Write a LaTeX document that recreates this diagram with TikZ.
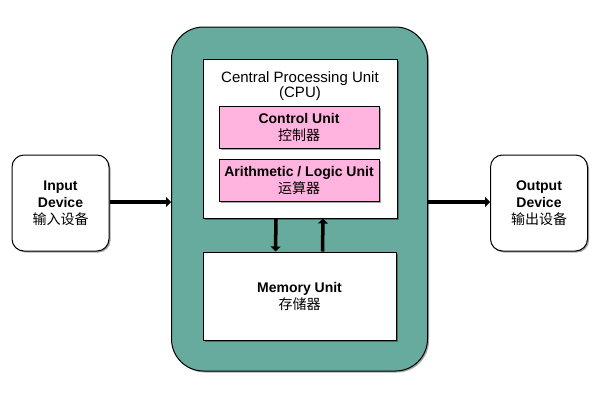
\documentclass[tikz,border=0pt]{standalone}
\usepackage{fontspec}
\setmainfont{Liberation Sans}
\newfontfamily\cjk{Noto Sans CJK SC}
\usetikzlibrary{arrows.meta,shadows}
\definecolor{tealfill}{HTML}{67AB9F}
\definecolor{pinkfill}{HTML}{FFB3DE}
\newcommand{\zh}[1]{{\cjk\fontsize{14}{17}\selectfont #1}}
\tikzset{
  shd/.style={drop shadow={shadow xshift=1.5pt,shadow yshift=-1.5pt,opacity=0.35,fill=black}},
  box/.style={draw=black,line width=1pt,fill=white,shd,align=center,inner sep=0pt,font=\fontsize{14}{17}\selectfont},
  devbox/.style={box,rounded corners=12pt,minimum width=97pt,minimum height=96pt},
  pinkbox/.style={box,fill=pinkfill,minimum width=160pt,minimum height=42pt},
  arr/.style={line width=3.5pt,-{Triangle[length=5pt,width=10pt]}},
}
\begin{document}
\begin{tikzpicture}[x=1pt,y=-1pt]
\useasboundingbox (0,0) rectangle (600,400);
% outer teal container
\node[box,fill=tealfill,rounded corners=32pt,minimum width=256pt,minimum height=344pt] (outer) at (299.5,199) {};
% CPU
\node[box,minimum width=194pt,minimum height=159pt] (cpu) at (300,138.5) {};
\node[align=center,font=\fontsize{15}{15}\selectfont] (cputxt) at (300,86) {Central Processing Unit\\(CPU)};
\node[pinkbox] (cu) at (299,127.5) {\textbf{Control Unit}\\\zh{控制器}};
\node[pinkbox] (alu) at (299,180.5) {\textbf{Arithmetic / Logic Unit}\\\zh{运算器}};
% Memory
\node[box,minimum width=193pt,minimum height=88pt] (mem) at (299.5,296) {\textbf{Memory Unit}\\\zh{存储器}};
% devices
\node[devbox] (in) at (60.5,203) {\textbf{Input}\\\textbf{Device}\\\zh{输入设备}};
\node[devbox] (out) at (539,203) {\textbf{Output}\\\textbf{Device}\\\zh{输出设备}};
% connectors
\draw[arr] ([yshift=1pt]in.east) -- ([yshift=1pt]in.east -| outer.west);
\draw[arr] ([yshift=1pt]out.west -| outer.east) -- ([yshift=1pt]out.west);
\draw[arr] ([xshift=-24pt]cpu.south) -- ([xshift=-24pt]mem.north);
\draw[arr] ([xshift=23pt]mem.north) -- ([xshift=23pt]cpu.south);
\end{tikzpicture}
\end{document}
